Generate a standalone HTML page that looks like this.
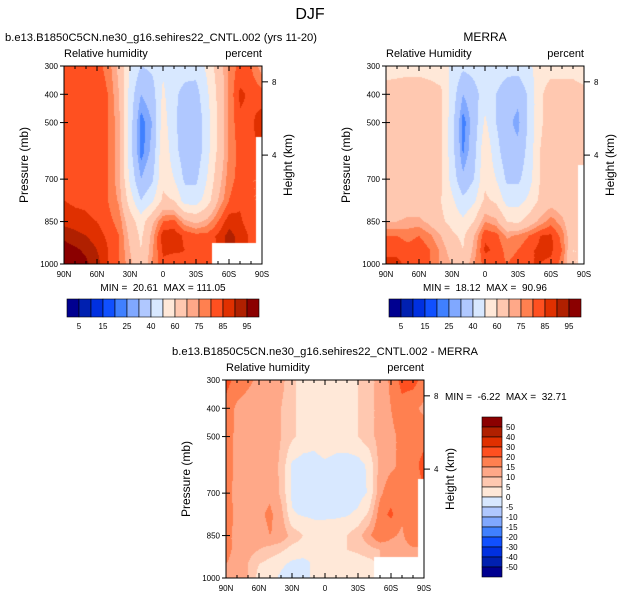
<!DOCTYPE html>
<html><head><meta charset="utf-8">
<style>
body{margin:0;background:#fff;width:621px;height:600px;overflow:hidden;position:relative;font-family:"Liberation Sans",sans-serif}
canvas{position:absolute}
svg{position:absolute;left:0;top:0}
text{font-family:"Liberation Sans",sans-serif;fill:#000;white-space:pre}
</style></head><body>
<canvas id="c1" width="198" height="198" style="left:64px;top:66px"></canvas>
<canvas id="c2" width="198" height="198" style="left:386px;top:66px"></canvas>
<canvas id="c3" width="198" height="198" style="left:226px;top:380px"></canvas>
<svg id="s" width="621" height="600"></svg>
<script>
const lats=[90,80,70,60,50,40,30,20,10,0,-10,-20,-30,-40,-50,-60,-70,-80,-90];
const levs=[300,400,500,600,700,775,850,900,950,1000];
const N=null;
const model=[
[83,83,82,82,78,68,50,40,42,48,45,44,44,52,65,76,82,80,72],
[84,83,82,84,80,70,46,30,35,52,42,37,36,48,62,76,86,84,82],
[83,82,82,82,80,72,45,22,30,55,42,34,33,45,62,76,84,84,88],
[83,82,82,82,80,72,44,22,32,58,44,34,33,46,62,76,82,84,N],
[84,83,83,82,80,72,48,30,38,58,50,38,38,50,66,78,82,80,N],
[85,84,84,82,80,74,55,40,48,62,60,45,45,55,70,80,84,80,N],
[88,87,86,85,82,78,65,55,68,80,82,72,68,72,80,88,86,82,N],
[94,92,90,87,84,80,68,58,72,88,88,84,82,82,86,92,88,84,N],
[97,96,94,90,85,80,70,60,74,86,86,85,84,83,N,N,N,N,N],
[97,97,96,92,85,80,72,62,75,84,82,84,84,82,N,N,N,N,N]];
const merra=[
[55,56,57,57,56,55,48,42,44,48,46,44,44,48,55,56,56,55,50],
[65,65,65,65,64,62,46,30,36,45,40,34,32,42,58,65,65,66,65],
[66,66,66,66,65,62,44,22,34,52,40,32,28,42,58,66,66,66,66],
[66,66,66,66,65,62,44,24,36,58,44,33,32,44,60,66,66,66,66],
[65,65,65,65,64,62,46,32,40,58,50,38,38,46,60,65,65,64,N],
[62,62,63,63,62,60,52,42,48,62,58,46,46,52,62,66,64,62,N],
[70,70,72,72,68,62,57,52,60,75,72,60,58,65,72,78,72,62,N],
[80,80,78,80,76,70,62,58,70,84,82,74,76,80,85,86,78,62,N],
[84,84,82,84,80,74,66,60,72,86,84,78,80,84,86,86,80,60,N],
[86,86,84,82,80,74,70,64,75,82,82,80,82,85,85,84,78,60,N]];
const diff=[
[22,18,16,14,14,12,6,3,2,3,3,4,5,8,12,16,22,22,18],
[18,14,13,12,12,10,6,3,2,2,3,4,5,8,12,15,18,16,14],
[17,14,13,13,13,10,6,3,2,4,3,4,5,8,12,14,16,17,18],
[17,14,13,14,13,9,-1,-2,-2,-1,-2,-3,-2,1,12,14,16,18,22],
[16,14,13,13,14,9,-1,-2,-3,-3,-2,-3,-2,0.5,14,18,16,16,N],
[17,14,13,14,16,12,0.5,-0.5,-1,-1,-1,-0.5,1,6,18,21,16,18,N],
[16,14,14,13,15,14,8,5,3,3,4,5,8,14,20,16,14,20,N],
[16,14,12,10,8,6,3,3,1,3,4,5,6,8,10,12,12,14,N],
[15,14,10,5,3,1,-1,-2,1,3,3,2,2,3,N,N,N,N,N],
[14,14,10,3,2,-1,-3,-3,2,3,3,2,1,0,N,N,N,N,N]];
const rhLevels=[5,10,15,20,25,30,40,50,60,70,75,80,85,90,95];
const rhLabels=["5","15","25","40","60","75","85","95"];
const dLevels=[-50,-40,-30,-20,-15,-10,-5,0,5,10,15,20,30,40,50];
const dLabels=["50","40","30","20","15","10","5","0","-5","-10","-15","-20","-30","-40","-50"];
const latLabels=["90N","60N","30N","0","30S","60S","90S"];
const pTicks=[300,400,500,700,850,1000];
const hTicks=[[8,356],[4,615]];
const colors=["#000090","#0020b0","#0030e0","#1050ff","#4080ff","#80a8ff","#b0c8ff","#d8e8ff","#ffe8d8","#ffc8b0","#ffa888","#ff8050","#ff5020","#e03000","#b02000","#8b0000"];

function hex(c){return [parseInt(c.slice(1,3),16),parseInt(c.slice(3,5),16),parseInt(c.slice(5,7),16)];}
const rgb=colors.map(hex);
function colorIdx(v,lv){let i=0;while(i<lv.length&&v>=lv[i])i++;return i;}
function drawField(id,grid,lv){
  const cv=document.getElementById(id),ctx=cv.getContext('2d');
  const W=198,H=198,img=ctx.createImageData(W,H);
  for(let py=0;py<H;py++){
    const p=300+700*(py+0.5)/H;
    let r=0;while(r<levs.length-2&&p>levs[r+1])r++;
    const fy=(p-levs[r])/(levs[r+1]-levs[r]);
    for(let px=0;px<W;px++){
      const lat=90-180*(px+0.5)/W;
      const fxg=(lats[0]-lat)/10;let c=Math.min(17,Math.floor(fxg));const fx=fxg-c;
      const near=grid[fy<0.5?r:r+1][fx<0.5?c:c+1];
      let col=[255,255,255];
      if(near!==null){
        const pts=[[grid[r][c],(1-fx)*(1-fy)],[grid[r][c+1],fx*(1-fy)],[grid[r+1][c],(1-fx)*fy],[grid[r+1][c+1],fx*fy]];
        let s=0,w=0;pts.forEach(q=>{if(q[0]!==null){s+=q[0]*q[1];w+=q[1];}});
        col=rgb[colorIdx(s/w,lv)];
      }
      const k=(py*W+px)*4;img.data[k]=col[0];img.data[k+1]=col[1];img.data[k+2]=col[2];img.data[k+3]=255;
    }
  }
  ctx.putImageData(img,0,0);
}
drawField('c1',model,rhLevels);
drawField('c2',merra,rhLevels);
drawField('c3',diff,dLevels);

const S=document.getElementById('s');const NS='http://www.w3.org/2000/svg';
function el(t,a,txt){const e=document.createElementNS(NS,t);for(const k in a)e.setAttribute(k,a[k]);if(txt!==undefined)e.textContent=txt;S.appendChild(e);return e;}
function txt(x,y,s,size,anchor,name,rot){const a={x:x,y:y,'font-size':size,'text-anchor':anchor||'start'};if(rot)a.transform='rotate(-90 '+x+' '+y+')';const e=el('text',a,s);

return e;}

function axes(x0,y0,left,right,pname){
  const W=198,H=198;
  const py=p=>y0+H*(p-300)/700;
  const fr=el('rect',{x:x0,y:y0,width:W,height:H,fill:'none',stroke:'#000','stroke-width':1});
  
  
  for(let l=90;l>=-90;l-=10){
    const x=x0+W*(90-l)/180,len=(l%30===0)?5:3;
    el('line',{x1:x,y1:y0+H,x2:x,y2:y0+H-len,stroke:'#000'});
    el('line',{x1:x,y1:y0,x2:x,y2:y0+len,stroke:'#000'});
  }
  latLabels.forEach((s,i)=>txt(x0+W*i/6,y0+H+13,s,8,'middle',pname+'-lat-label'));
  pTicks.forEach(p=>{el('line',{x1:x0-4,y1:py(p),x2:x0,y2:py(p),stroke:'#000'});el('line',{x1:x0,y1:py(p),x2:x0+4,y2:py(p),stroke:'#000'});txt(x0-6,py(p)+3,String(p),8,'end',pname+'-pressure-tick');});
  hTicks.forEach(h=>{el('line',{x1:x0+W,y1:py(h[1]),x2:x0+W+6,y2:py(h[1]),stroke:'#000'});txt(x0+W+10,py(h[1])+3,String(h[0]),8,'start',pname+'-height-tick');});
  txt(x0-36,y0+H/2,'Pressure (mb)',12,'middle',pname+'-y-axis-title',true);
  txt(x0+W+30,y0+H/2,'Height (km)',12,'middle',pname+'-right-axis-title',true);
  txt(x0,y0-9,left,11,'start',pname+'-variable-label');
  txt(x0+W,y0-9,'percent',11,'end',pname+'-units-label');
}
function hbar(x0,y0,pname){
  colors.forEach((c,i)=>{const r=el('rect',{x:x0+12*i,y:y0,width:12,height:18,fill:c,stroke:'#000','stroke-width':0.6});
  
  });
  rhLabels.forEach((s,i)=>txt(x0+12*(2*i+1),y0+30,s,8,'middle',pname+'-colorbar-label'));
}
txt(310,19,'DJF',16,'middle','figure-title');
txt(5,41,'b.e13.B1850C5CN.ne30_g16.sehires22_CNTL.002 (yrs 11-20)',11.2,'start','model-panel-title');
txt(485,41,'MERRA',12,'middle','merra-panel-title');
txt(325,355,'b.e13.B1850C5CN.ne30_g16.sehires22_CNTL.002 - MERRA',11.2,'middle','diff-panel-title');
axes(64,66,'Relative humidity','model');
axes(386,66,'Relative Humidity','merra');
axes(226,380,'Relative humidity','diff');
txt(163,291,'MIN =  20.61  MAX = 111.05',10,'middle','model-minmax');
txt(485,291,'MIN =  18.12  MAX =  90.96',10,'middle','merra-minmax');
txt(445,400,'MIN =  -6.22  MAX =  32.71',10,'start','diff-minmax');
hbar(67,299,'model');
hbar(389,299,'merra');
for(let i=0;i<16;i++){const r=el('rect',{x:482,y:417+10*i,width:20,height:10,fill:colors[15-i],stroke:'#000','stroke-width':0.6});

}
dLabels.forEach((s,i)=>txt(506,417+10*(i+1)+3,s,8,'start','diff-colorbar-label'));
</script>
</body></html>
